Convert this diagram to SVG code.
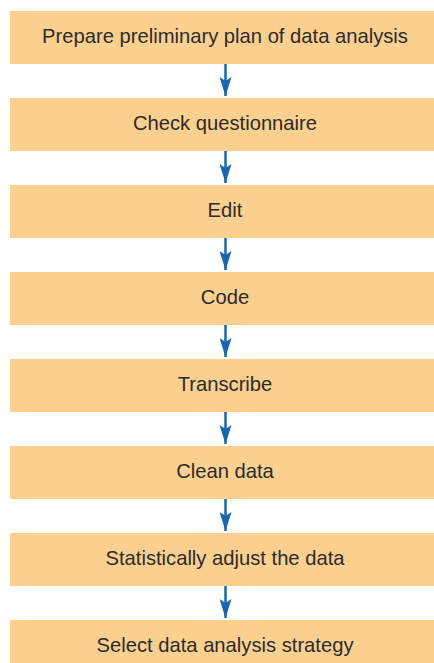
<svg xmlns="http://www.w3.org/2000/svg" width="434" height="663" viewBox="0 0 434 663">
<style>
.box{fill:#fcd08f}
.t{font-family:"Liberation Sans",Arial,sans-serif;font-size:20.2px;fill:#2b2b2b;text-anchor:middle}
.c{stroke:#1666b3;stroke-width:2.5;fill:none}
.h{fill:#1666b3}
</style>
<defs>
<marker id="ah" markerWidth="20" markerHeight="12" refX="19" refY="6" orient="auto" markerUnits="userSpaceOnUse" viewBox="0 0 20 12">
<path d="M0,0 L4,6 L0,12 L19,6 Z" class="h"/>
</marker>
</defs>
<rect width="434" height="663" fill="#fff"/>
<g id="n1"><rect class="box" x="10" y="11" width="424" height="53"/><text class="t" x="225" y="43">Prepare preliminary plan of data analysis</text></g>
<g id="n2"><rect class="box" x="10" y="98" width="424" height="53"/><text class="t" x="225" y="130">Check questionnaire</text></g>
<g id="n3"><rect class="box" x="10" y="185" width="424" height="53"/><text class="t" x="225" y="217">Edit</text></g>
<g id="n4"><rect class="box" x="10" y="272" width="424" height="53"/><text class="t" x="225" y="304">Code</text></g>
<g id="n5"><rect class="box" x="10" y="359" width="424" height="53"/><text class="t" x="225" y="391">Transcribe</text></g>
<g id="n6"><rect class="box" x="10" y="446" width="424" height="53"/><text class="t" x="225" y="478">Clean data</text></g>
<g id="n7"><rect class="box" x="10" y="533" width="424" height="53"/><text class="t" x="225" y="565">Statistically adjust the data</text></g>
<g id="n8"><rect class="box" x="10" y="620" width="424" height="53"/><text class="t" x="225" y="652">Select data analysis strategy</text></g>
<g id="connectors">
<line class="c" x1="225.5" y1="64" x2="225.5" y2="96" marker-end="url(#ah)"/>
<line class="c" x1="225.5" y1="151" x2="225.5" y2="183" marker-end="url(#ah)"/>
<line class="c" x1="225.5" y1="238" x2="225.5" y2="270" marker-end="url(#ah)"/>
<line class="c" x1="225.5" y1="325" x2="225.5" y2="357" marker-end="url(#ah)"/>
<line class="c" x1="225.5" y1="412" x2="225.5" y2="444" marker-end="url(#ah)"/>
<line class="c" x1="225.5" y1="499" x2="225.5" y2="531" marker-end="url(#ah)"/>
<line class="c" x1="225.5" y1="586" x2="225.5" y2="618" marker-end="url(#ah)"/>
</g>
</svg>
